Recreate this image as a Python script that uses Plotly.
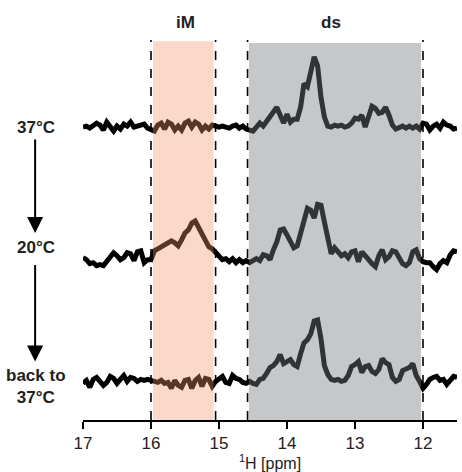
import numpy as np
import plotly.graph_objects as go

# chemical shift grid (ppm), 17.0 -> 11.5 in 0.05 ppm steps
ppm = np.round(np.linspace(17.0, 11.5, 111), 3)

# imino-proton intensities (arbitrary units) for each temperature step
spec_37 = [0, 1, -1, 2, 4, 2, -3, 5, 1, -4, 1, -2, 3, 1, 5, 0, 1, 2, 3, -1,
           -2, -4, 2, 4, -2, 5, 3, -3, 1, -3, 4, 6, 0, 5, 3, -3, 1, -2, 2, 1,
           0, 1, 0, -1, 1, 2, -1, 1, -2, -3,
           -4, 0, 4, 1, 6, 10, 14, 20, 12, 4, 13, 5, 8, 8, 20, 44, 41, 55, 71, 62,
           30, 10, 1, 0, 2, 1, 2, 0, 1, 4, 9, 8, 12, 0, 10, 21, 19, 14, 15, 20,
           12, 2, -2, 0, 1, -1, 1, -1, 1, -2, 4, 3, -3, 1, 3, -1, 5, 2, 1, -2, -1]

spec_20 = [2, 0, -4, -3, -6, -5, -6, -2, 3, 7, 4, 0, 2, 7, 6, -1, 8, 9, -3, 0,
           0, 9, 11, 13, 14, 16, 19, 17, 14, 20, 27, 30, 37, 39, 33, 25, 20, 13, 11, 7,
           4, 0, 1, -2, 1, -3, 0, -3, -1, -3,
           -1, 1, -1, 5, 4, 0, 10, 18, 30, 31, 25, 18, 12, 14, 27, 38, 52, 50, 42, 56,
           55, 38, 20, 6, 12, 7, 4, 6, 2, 8, 9, -2, 8, 4, -1, -4, -7, 4, 10, 0,
           3, 9, 8, 2, -4, -6, -3, 8, 10, 1, -2, -3, -3, -7, -10, -4, -1, -3, 5, 9, 8]

spec_back = [0, 3, -4, 4, 6, 2, -2, 1, 7, 5, 0, 4, 8, 2, 6, 5, 2, 4, 3, 4,
             3, 3, 1, 3, 0, 1, -5, 3, -2, -4, 3, 4, -5, 3, 6, -3, 5, 4, -3, 2,
             4, 7, 1, 0, 8, 5, 4, 1, 0, 2,
             0, -1, 4, 5, 10, 16, 18, 22, 29, 20, 22, 24, 19, 17, 30, 41, 44, 50, 63, 64,
             45, 18, 9, 4, 3, 4, 2, 3, 8, 17, 19, 22, 11, 17, 18, 12, 10, 14, 25, 21,
             19, 6, 2, 4, 13, 14, 16, 20, 8, 2, -5, -1, 4, 6, 7, 3, 4, -1, 3, 7, 6]

spectra = [spec_37, spec_20, spec_back]
labels = ["37°C", "20°C", "back to<br>37°C"]
offsets = [296, 162, 37]  # vertical stacking of the spectra

# chemical-shift windows of the two imino regions
im_window = (15.97, 15.08)
ds_window = (14.56, 12.03)
dash_lines = [16.0, 15.05, 14.58, 12.0]

font_main = "Liberation Sans, Arial, sans-serif"

fig = go.Figure()
for spec, off in zip(spectra, offsets):
    fig.add_trace(go.Scatter(
        x=ppm, y=np.array(spec) + off, mode="lines",
        line=dict(color="black", width=5),
        hoverinfo="skip", showlegend=False,
    ))

# boundary lines of the windows
for xv in dash_lines:
    fig.add_shape(type="line", xref="x", yref="paper", x0=xv, x1=xv, y0=0, y1=1,
                  line=dict(color="black", width=1.6, dash="dash"), layer="below")

# translucent window fills laid over the spectra
fig.add_shape(type="rect", xref="x", yref="paper", x0=im_window[0], x1=im_window[1],
              y0=0, y1=0.997, fillcolor="rgb(242,150,108)", opacity=0.36,
              line=dict(width=0), layer="above")
fig.add_shape(type="rect", xref="x", yref="paper", x0=ds_window[0], x1=ds_window[1],
              y0=0, y1=0.992, fillcolor="rgb(120,122,126)", opacity=0.42,
              line=dict(width=0), layer="above")

# region titles
for txt, xv in [("iM", 15.5), ("ds", 13.35)]:
    fig.add_annotation(x=xv, y=1.047, xref="x", yref="paper", text=f"<b>{txt}</b>",
                       showarrow=False, xanchor="center", yanchor="middle",
                       font=dict(family=font_main, size=17, color="#222"))

# temperature labels
label_y = [296, 174, 34]
for txt, yv in zip(labels, label_y):
    fig.add_annotation(x=-0.125, y=yv, xref="paper", yref="y", text=f"<b>{txt}</b>",
                       showarrow=False, align="center", xanchor="center", yanchor="middle",
                       font=dict(family=font_main, size=17, color="#222"))

# arrows between the temperature steps
for tip, tail in [(0.492, 95), (0.154, 98)]:
    fig.add_annotation(x=-0.128, y=tip, xref="paper", yref="paper", text="",
                       showarrow=True, ax=0, ay=-tail, arrowhead=2, arrowsize=1.6,
                       arrowwidth=2, arrowcolor="black")

fig.update_xaxes(
    range=[17, 11.5], tickvals=[17, 16, 15, 14, 13, 12],
    showline=True, linecolor="black", linewidth=2,
    ticks="outside", ticklen=7, tickwidth=2, tickcolor="black",
    showgrid=False, zeroline=False,
    tickfont=dict(family=font_main, size=17, color="#222"),
    title=dict(text="<sup>1</sup>H [ppm]", standoff=2,
               font=dict(family=font_main, size=16, color="#222")),
)
fig.update_yaxes(range=[0, 384], visible=False, showgrid=False, zeroline=False)

fig.update_layout(
    width=462, height=472,
    margin=dict(l=83, r=5, t=40, b=48),
    paper_bgcolor="white", plot_bgcolor="white",
)

fig.write_html("out.html")
